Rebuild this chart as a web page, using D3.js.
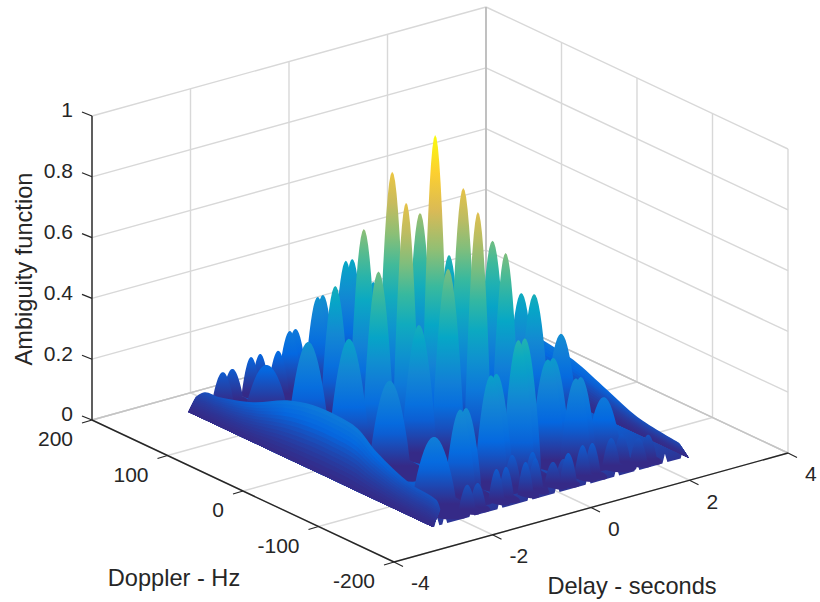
<!DOCTYPE html>
<html>
<head>
<meta charset="utf-8">
<script src="https://cdn.jsdelivr.net/npm/d3@7"></script>
<style>
    html, body { margin: 0; padding: 0; background: #fff; }
    text { font-family: "Liberation Sans", Arial, sans-serif; font-size: 21px; fill: #262626; }
    text.title { font-size: 23.6px; }
</style>
</head>
<body>
<div id="chart"></div>
<script>
// tick labels
var delayTicks = [-4, -2, 0, 2, 4];
var dopplerTicks = [200, 100, 0, -100, -200];
var ambiguityTicks = [0, 0.2, 0.4, 0.6, 0.8, 1];

// peaks: delay (s), doppler (Hz), height, half width in delay (s)
var peakDelay = [-1.86, -1.65, -1.25, -1.05, -0.9, -0.71, -0.58, -0.25, -0.13, 0.43, 0.56, 0.45, -1.45, -0.72, 1.33, -1.6, -0.46, 0.45, -0.19, -1.49, -1.1, 1.2, -0.69, 0.44, 1.63, -0.13, -0.71, 1.6, 2.02, -1.45, -0.3, 0.87, 0.14,
    0.74, 0.85, -0.1, 0.03, -0.58, -0.47, -1.33, -1.21, 1.08, 1.18, 1.5, -1.92,
    -1.63, -1.45, -0.99, -0.81, -0.43, -0.2, 0.17, 0.38, 0.76, 0.94, 1.4, 1.64, 1.83, 2.04, -0.41, -0.15, 0.36];
var peakDoppler = [167, 168, 169, 170, 156, 153, 154, 146, 147, 153, 153, 118, 137, 92, 75, 71, 71, 56, 51, 24, 10, 9, 0, -2, -1, -2, -18, -20, -28, -27, -30, -30, -41,
    -94, -94, -110, -110, -105, -105, -113, -113, -109, -109, -118, -116,
    -142, -144, -139, -140, -141, -139, -138, -138, -139, -140, -135, -133, -143, -142, -122, -132, -146];
var peakHeight = [0.10, 0.10, 0.12, 0.12, 0.14, 0.20, 0.20, 0.30, 0.30, 0.38, 0.38, 0.35, 0.14, 0.42, 0.45, 0.30, 0.62, 0.65, 0.82, 0.36, 0.58, 0.58, 0.80, 0.80, 0.40, 1.0, 0.42, 0.42, 0.28, 0.28, 0.60, 0.60, 0.78,
    0.33, 0.33, 0.45, 0.45, 0.35, 0.35, 0.28, 0.28, 0.27, 0.27, 0.20, 0.22,
    0.08, 0.08, 0.10, 0.10, 0.10, 0.10, 0.07, 0.07, 0.10, 0.10, 0.09, 0.09, 0.08, 0.08, 0.10, 0.11, 0.10];
var peakSpread = [0.22, 0.22, 0.19, 0.19, 0.22, 0.26, 0.26, 0.27, 0.27, 0.27, 0.27, 0.3, 0.42, 0.3, 0.28, 0.42, 0.3, 0.3, 0.3, 0.42, 0.34, 0.32, 0.28, 0.3, 0.32, 0.28, 0.36, 0.32, 0.34, 0.42, 0.34, 0.29, 0.28,
    0.36, 0.36, 0.34, 0.34, 0.34, 0.34, 0.32, 0.32, 0.32, 0.32, 0.38, 0.46,
    0.17, 0.17, 0.16, 0.16, 0.16, 0.16, 0.17, 0.17, 0.17, 0.17, 0.18, 0.18, 0.18, 0.18, 0.18, 0.18, 0.18];

// the two long ridges at the ends of the delay range
var leftRidgeDoppler = [167, 155, 135, 91, 46, 12, -20, -47, -73, -117, -152, -157];
var leftRidgeHeight = [0.043, 0.072, 0.079, 0.114, 0.173, 0.197, 0.2, 0.19, 0.141, 0.09, 0.076, 0.05];
var rightRidgeDoppler = [167, 100, 50, 20, -20, -65, -105, -160];
var rightRidgeHeight = [0.05, 0.12, 0.2, 0.186, 0.168, 0.121, 0.079, 0.059];

// small nicks along the front edge of the surface
var frontNotchDelay = [-2.47, -2.31, -1.76, -1.19, -0.58, -0.03, 0.6, 1.18, 1.59, 2.16, 2.53];

var w = 820;
var h = 602;

// the 3D box is a plain parallel projection, one scale for each screen component
var delayX = d3.scaleLinear().domain([-4, 4]).range([0, 394]);
var delayY = d3.scaleLinear().domain([-4, 4]).range([0, -109]);
var dopplerX = d3.scaleLinear().domain([-200, 200]).range([0, -302]);
var dopplerY = d3.scaleLinear().domain([-200, 200]).range([0, -142]);
var heightY = d3.scaleLinear().domain([0, 1]).range([0, -304]);

function project(delay, doppler, z) {
    return [394 + delayX(delay) + dopplerX(doppler),
            562 + delayY(delay) + dopplerY(doppler) + heightY(z)];
}

var parula = d3.scaleLinear()
    .domain([0, 0.125, 0.25, 0.375, 0.5, 0.625, 0.75, 0.875, 1])
    .range(["#352a87", "#0468e1", "#1485d4", "#06a7c6", "#38b99e", "#92bf73", "#d9ba56", "#fccf30", "#f9fb0e"]);

var svg = d3.select("#chart")
    .append("svg")
    .attr("width", w)
    .attr("height", h)
    .style("display", "block");

var defs = svg.append("defs");
var gradCount = 0;

function segment(a, b, color, width) {
    svg.append("line")
        .attr("x1", a[0]).attr("y1", a[1])
        .attr("x2", b[0]).attr("y2", b[1])
        .attr("stroke", color)
        .attr("stroke-width", width);
}

// grid on the two back walls and the floor
var gridColor = "#d8d8d8";
delayTicks.forEach(function(d) {
    segment(project(d, 200, 0), project(d, 200, 1), gridColor, 1.4);
    segment(project(d, 200, 0), project(d, -200, 0), gridColor, 1.4);
});
dopplerTicks.forEach(function(f) {
    segment(project(4, f, 0), project(4, f, 1), gridColor, 1.4);
    segment(project(-4, f, 0), project(4, f, 0), gridColor, 1.4);
});
ambiguityTicks.forEach(function(z) {
    segment(project(-4, 200, z), project(4, 200, z), gridColor, 1.4);
    segment(project(4, 200, z), project(4, -200, z), gridColor, 1.4);
});
segment(project(4, 200, 0), project(4, 200, 1), "#b5b5b5", 1.4);
segment(project(-4, 200, 0), project(4, 200, 0), "#c4c4c4", 1.4);
segment(project(4, 200, 0), project(4, -200, 0), "#c4c4c4", 1.4);

// axes
var axisColor = "#262626";
segment(project(-4, 200, 0), project(-4, 200, 1), axisColor, 1.4);
segment(project(-4, 200, 0), project(-4, -200, 0), axisColor, 1.4);
segment(project(-4, -200, 0), project(4, -200, 0), axisColor, 1.4);

ambiguityTicks.forEach(function(z) {
    var p = project(-4, 200, z);
    segment(p, [p[0] - 10, p[1] - 4], axisColor, 1.2);
    svg.append("text")
        .attr("x", p[0] - 19)
        .attr("y", p[1] - 6)
        .attr("dy", "0.35em")
        .attr("text-anchor", "end")
        .text(z);
});
dopplerTicks.forEach(function(f) {
    var p = project(-4, f, 0);
    segment(p, [p[0] - 10, p[1] + 3], axisColor, 1.2);
    svg.append("text")
        .attr("x", p[0] - 19)
        .attr("y", p[1] + 19)
        .attr("dy", "0.35em")
        .attr("text-anchor", "end")
        .text(f);
});
delayTicks.forEach(function(d) {
    var p = project(d, -200, 0);
    segment(p, [p[0] + 9, p[1] + 4.5], axisColor, 1.2);
    svg.append("text")
        .attr("x", p[0] + 17)
        .attr("y", p[1] + 21)
        .attr("dy", "0.35em")
        .text(d);
});

svg.append("text").attr("class", "title").attr("x", 174).attr("y", 578).attr("dy", "0.35em")
    .attr("text-anchor", "middle").text("Doppler - Hz");
svg.append("text").attr("class", "title").attr("x", 632).attr("y", 586).attr("dy", "0.35em")
    .attr("text-anchor", "middle").text("Delay - seconds");
svg.append("text").attr("class", "title").attr("transform", "translate(24,269) rotate(-90)").attr("dy", "0.35em")
    .attr("text-anchor", "middle").text("Ambiguity function");

var surface = svg.append("g");
var pathLine = d3.line();
var smoothLine = d3.line().curve(d3.curveCatmullRom);

// floor of the surface, with the nicks on its front edge
var floorPoints = [project(-2.55, 167, 0), project(2.6, 167, 0), project(2.6, -157, 0)];
frontNotchDelay.slice().reverse().forEach(function(d) {
    floorPoints.push(project(d + 0.05, -157, 0));
    floorPoints.push(project(d, -157, 0.03));
    floorPoints.push(project(d - 0.05, -157, 0));
});
floorPoints.push(project(-2.55, -157, 0));

// the floor goes from dark at the front edge to blue further back,
// the gradient runs square to the front edge so the whole edge stays dark
var floorStart = project(0, -157, 0);
var floorGrad = defs.append("linearGradient")
    .attr("id", "floorGrad")
    .attr("gradientUnits", "userSpaceOnUse")
    .attr("x1", floorStart[0]).attr("y1", floorStart[1])
    .attr("x2", floorStart[0] - 13).attr("y2", floorStart[1] - 46);
floorGrad.append("stop").attr("offset", 0).attr("stop-color", parula(0.02));
floorGrad.append("stop").attr("offset", 1).attr("stop-color", parula(0.1));
surface.append("path")
    .attr("d", pathLine(floorPoints) + "Z")
    .attr("fill", "url(#floorGrad)");

// a ridge is drawn as nested layers so the colour follows the height like the mesh rows do
function drawRidge(dopplers, heights, baseDelay, crestDelay) {
    var layers = 14;
    d3.range(layers, 0, -1).forEach(function(k) {
        var t = k / layers;
        var top = dopplers.map(function(f, i) {
            return project(baseDelay + (crestDelay - baseDelay) * t, f, heights[i] * t);
        });
        var base = dopplers.map(function(f) { return project(baseDelay, f, 0); }).reverse();
        var x0 = top[0][0];
        var x1 = top[top.length - 1][0];
        var id = "g" + (gradCount++);
        var grad = defs.append("linearGradient")
            .attr("id", id)
            .attr("gradientUnits", "userSpaceOnUse")
            .attr("x1", x0).attr("y1", 0)
            .attr("x2", x1).attr("y2", 0);
        top.forEach(function(p, i) {
            grad.append("stop")
                .attr("offset", (p[0] - x0) / (x1 - x0))
                .attr("stop-color", parula(heights[i] * Math.pow(t, 1.5)));
        });
        surface.append("path")
            .attr("d", smoothLine(top) + "L" + base.join("L") + "Z")
            .attr("fill", "url(#" + id + ")");
    });
}

function drawPeak(i) {
    var delay = peakDelay[i];
    var doppler = peakDoppler[i];
    var z = peakHeight[i];
    var spread = peakSpread[i];
    var points = [];
    d3.range(-1, 1.001, 0.1).forEach(function(t) {
        points.push(project(delay + t * spread, doppler, z * Math.pow(Math.cos(t * Math.PI / 2), 0.85)));
    });
    // foot of the lobe on the side towards the viewer
    var foot = Math.min(spread * 100, doppler + 157);
    d3.range(0, Math.PI + 0.01, Math.PI / 10).forEach(function(a) {
        points.push(project(delay + spread * Math.cos(a), doppler - foot * Math.sin(a), 0));
    });
    var base = project(delay, doppler, 0);
    var tip = project(delay, doppler, z);
    var id = "g" + (gradCount++);
    var grad = defs.append("linearGradient")
        .attr("id", id)
        .attr("gradientUnits", "userSpaceOnUse")
        .attr("x1", 0).attr("y1", base[1])
        .attr("x2", 0).attr("y2", tip[1]);
    d3.range(0, 1.001, 0.125).forEach(function(s) {
        grad.append("stop")
            .attr("offset", s)
            .attr("stop-color", parula(z * s));
    });
    surface.append("path")
        .attr("d", pathLine(points) + "Z")
        .attr("fill", "url(#" + id + ")");
}

drawRidge(rightRidgeDoppler, rightRidgeHeight, 2.6, 2.4);

// painter's order: lobes whose foot sits higher on screen are further away
var order = d3.range(peakDelay.length).sort(function(a, b) {
    return d3.ascending(project(peakDelay[a], peakDoppler[a], 0)[1], project(peakDelay[b], peakDoppler[b], 0)[1]);
});
order.forEach(drawPeak);

drawRidge(leftRidgeDoppler, leftRidgeHeight, -2.55, -2.4);
</script>
</body>
</html>
